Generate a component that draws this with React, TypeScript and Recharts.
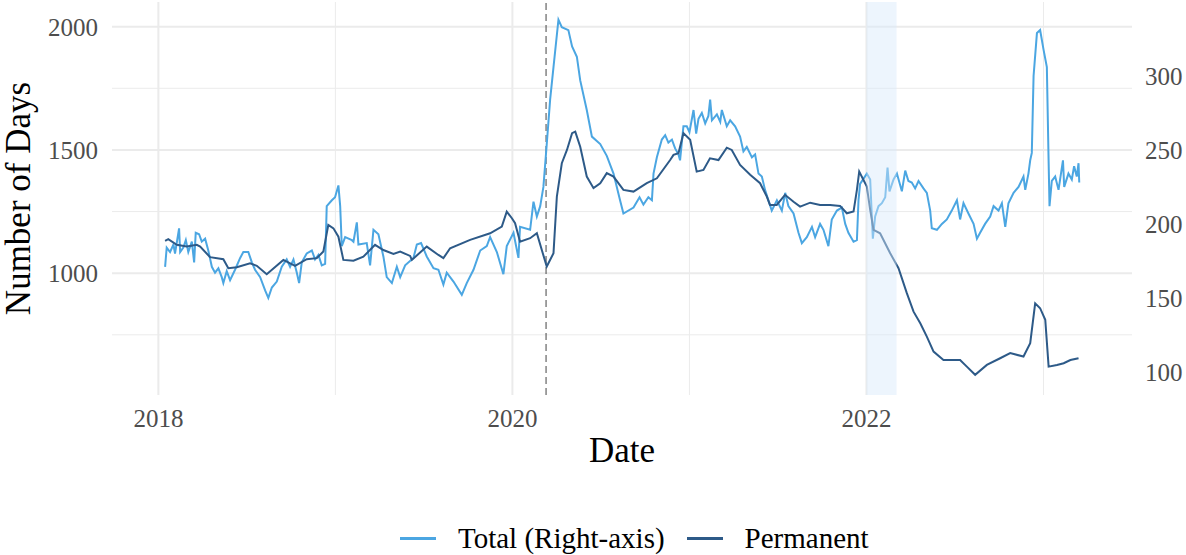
import React from "react";
import {
  LineChart,
  Line,
  XAxis,
  YAxis,
  CartesianGrid,
  ReferenceArea,
  ReferenceLine,
} from "recharts";

// dates are decimal years
const permDates = [
  2018.038, 2018.056, 2018.104, 2018.16, 2018.217, 2018.236, 2018.292, 2018.367, 2018.395, 2018.443,
  2018.518, 2018.556, 2018.612, 2018.706, 2018.772, 2018.838, 2018.895, 2018.932, 2018.96, 2018.989,
  2019.017, 2019.045, 2019.102, 2019.158, 2019.224, 2019.271, 2019.328, 2019.366, 2019.422, 2019.432,
  2019.516, 2019.582, 2019.61, 2019.648, 2019.761, 2019.874, 2019.94, 2019.968, 2019.997, 2020.015,
  2020.043, 2020.1, 2020.138, 2020.166, 2020.194, 2020.232, 2020.251, 2020.279, 2020.308, 2020.337,
  2020.355, 2020.383, 2020.42, 2020.458, 2020.496, 2020.533, 2020.571, 2020.627, 2020.684, 2020.759,
  2020.816, 2020.891, 2020.91, 2020.938, 2020.966, 2021.004, 2021.041, 2021.079, 2021.116, 2021.164,
  2021.211, 2021.239, 2021.286, 2021.343, 2021.399, 2021.437, 2021.455, 2021.493, 2021.54, 2021.588,
  2021.625, 2021.682, 2021.738, 2021.795, 2021.851, 2021.889, 2021.927, 2021.946, 2021.959, 2022.002,
  2022.021, 2022.04, 2022.077, 2022.134, 2022.181, 2022.228, 2022.266, 2022.304, 2022.341, 2022.379,
  2022.435, 2022.529, 2022.567, 2022.614, 2022.68, 2022.755, 2022.812, 2022.887, 2022.925, 2022.953,
  2022.981, 2023.01, 2023.029, 2023.076, 2023.114, 2023.152, 2023.198,
];
const permValues = [
  1131, 1138, 1115, 1108, 1115, 1108, 1065, 1057, 1020, 1024,
  1040, 1030, 996, 1054, 1030, 1057, 1061, 1088, 1196, 1182,
  1148, 1054, 1051, 1067, 1115, 1094, 1078, 1088, 1070, 1054,
  1108, 1074, 1061, 1101, 1135, 1162, 1189, 1250, 1223, 1203,
  1128, 1142, 1162, 1094, 1027, 1081, 1311, 1446, 1500, 1568,
  1574, 1513, 1392, 1345, 1365, 1406, 1392, 1338, 1331, 1365,
  1385, 1459, 1480, 1487, 1568, 1541, 1412, 1419, 1466, 1459,
  1509, 1500, 1439, 1399, 1365, 1311, 1277, 1277, 1318, 1290,
  1270, 1286, 1277, 1277, 1273, 1243, 1250, 1338, 1412, 1351,
  1257, 1176, 1162, 1081, 1020, 919, 844, 797, 743, 682,
  648, 648, 621, 588, 628, 655, 676, 662, 716, 878,
  858, 811, 621, 628, 635, 648, 655,
];

const totalDates = [
  // 2018
  2018.038, 2018.047, 2018.066, 2018.085, 2018.094, 2018.117, 2018.123, 2018.141, 2018.155, 2018.169,
  2018.189, 2018.202, 2018.211, 2018.23, 2018.245, 2018.264, 2018.282, 2018.302, 2018.32, 2018.339,
  2018.358, 2018.367, 2018.386, 2018.405, 2018.433, 2018.462, 2018.48, 2018.508, 2018.528, 2018.546,
  2018.575, 2018.603, 2018.621, 2018.641, 2018.669, 2018.697, 2018.725, 2018.744, 2018.763, 2018.782,
  2018.795, 2018.81, 2018.838, 2018.867, 2018.885, 2018.904, 2018.923, 2018.942, 2018.951, 2018.98,
  2018.998, 2019.017, 2019.027, 2019.036, 2019.055, 2019.093,
  // 2019 - mid 2020
  2019.102, 2019.121, 2019.13, 2019.177, 2019.196, 2019.215, 2019.243, 2019.271, 2019.29, 2019.319,
  2019.347, 2019.366, 2019.394, 2019.441, 2019.46, 2019.484, 2019.516, 2019.554, 2019.582, 2019.61,
  2019.629, 2019.667, 2019.714, 2019.742, 2019.78, 2019.818, 2019.855, 2019.874, 2019.912, 2019.949,
  2019.968, 2020.006, 2020.034, 2020.043, 2020.1, 2020.119, 2020.138, 2020.157, 2020.175, 2020.194,
  2020.213, 2020.232, 2020.26, 2020.279, 2020.316, 2020.337, 2020.364, 2020.383, 2020.42, 2020.449,
  2020.496, 2020.533, 2020.571, 2020.608, 2020.627, 2020.684,
  // late 2020 - 2021
  2020.718, 2020.74, 2020.768, 2020.788, 2020.797, 2020.816, 2020.844, 2020.863, 2020.881, 2020.901,
  2020.919, 2020.938, 2020.947, 2020.966, 2020.985, 2021.0, 2021.023, 2021.038, 2021.051, 2021.07,
  2021.089, 2021.107, 2021.117, 2021.127, 2021.155, 2021.174, 2021.183, 2021.211, 2021.23, 2021.258,
  2021.286, 2021.305, 2021.324, 2021.353, 2021.371, 2021.39, 2021.409, 2021.427, 2021.446, 2021.465,
  2021.494, 2021.522, 2021.541, 2021.559, 2021.588, 2021.616, 2021.635, 2021.663, 2021.692, 2021.71,
  2021.738, 2021.757, 2021.785, 2021.804, 2021.833, 2021.861, 2021.88, 2021.898, 2021.927, 2021.946,
  2021.955,
  // 2022 - 2023
  2021.964, 2022.002, 2022.021, 2022.036, 2022.049, 2022.068, 2022.087, 2022.106, 2022.119, 2022.13,
  2022.153, 2022.172, 2022.2, 2022.219, 2022.237, 2022.256, 2022.275, 2022.294, 2022.322, 2022.341,
  2022.36, 2022.369, 2022.398, 2022.426, 2022.454, 2022.482, 2022.511, 2022.529, 2022.548, 2022.576,
  2022.605, 2022.624, 2022.642, 2022.67, 2022.699, 2022.718, 2022.746, 2022.765, 2022.784, 2022.802,
  2022.831, 2022.859, 2022.887, 2022.897, 2022.915, 2022.925, 2022.934, 2022.944, 2022.963, 2022.981,
  2023.0, 2023.019, 2023.028, 2023.034, 2023.047, 2023.066, 2023.085, 2023.11, 2023.117, 2023.141,
  2023.16, 2023.173, 2023.188, 2023.198, 2023.202,
];
const totalValues = [
  // 2018
  171, 184, 181, 186, 180, 197, 181, 184, 189, 181,
  188, 174, 194, 193, 188, 190, 182, 171, 167, 170,
  164, 160, 168, 162, 169, 177, 181, 181, 174, 169,
  164, 155, 150, 157, 161, 171, 176, 171, 176, 167,
  160, 174, 180, 182, 176, 179, 172, 173, 212, 216,
  218, 226, 212, 185, 191, 189,
  // 2019 - mid 2020
  188, 201, 186, 187, 172, 196, 193, 178, 164, 160,
  171, 164, 172, 177, 186, 187, 178, 170, 169, 159,
  167, 161, 152, 160, 169, 182, 185, 191, 181, 166,
  185, 194, 177, 198, 196, 215, 205, 212, 225, 254,
  284, 306, 338, 333, 331, 320, 313, 297, 277, 259,
  254, 246, 234, 216, 207, 211,
  // late 2020 - 2021
  218, 213, 218, 216, 234, 245, 257, 260, 255, 257,
  251, 247, 243, 266, 266, 262, 277, 261, 271, 275,
  268, 273, 284, 270, 274, 269, 277, 266, 270, 266,
  259, 249, 252, 245, 247, 234, 232, 223, 216, 209,
  216, 209, 221, 212, 207, 194, 187, 191, 198, 191,
  200, 196, 185, 203, 209, 211, 200, 194, 188, 189,
  216,
  // 2022 - 2023
  227, 234, 230, 190, 205, 212, 214, 218, 238, 222,
  230, 234, 222, 236, 229, 228, 224, 229, 224, 221,
  209, 197, 196, 200, 203, 209, 216, 203, 214, 207,
  200, 190, 194, 200, 205, 212, 209, 214, 198, 214,
  221, 225, 232, 223, 234, 243, 248, 300, 329, 331,
  318, 306, 248, 212, 229, 232, 223, 243, 225, 234,
  230, 239, 232, 241, 228,
];

const yearTicks = [2018, 2020, 2022];
const minorYears = [2019, 2021, 2023];
const leftTicks = [1000, 1500, 2000];
const leftMinor = [750, 1250, 1750];
const rightTicks = [100, 150, 200, 250, 300];

const covidStart = 2020.19;
const shadeFrom = 2022.0;
const shadeTo = 2022.17;

// right axis is the left axis divided by 6
const RATIO = 6;
const LEFT_DOMAIN: [number, number] = [506, 2100];
const RIGHT_DOMAIN: [number, number] = [LEFT_DOMAIN[0] / RATIO, LEFT_DOMAIN[1] / RATIO];
const X_DOMAIN: [number, number] = [2017.738, 2023.5];

const LIGHT = "#4ba6e2";
const DARK = "#2d5a88";
const FONT = "'Liberation Serif', 'Times New Roman', serif";

const permData = permDates.map((t, i) => ({ t, value: permValues[i] }));
const totalData = totalDates.map((t, i) => ({ t, value: totalValues[i] }));

const tickStyle = { fill: "#4d4d4d", fontSize: 25, fontFamily: FONT };

const LegendItem = ({ color, label }: { color: string; label: string }) => (
  <div style={{ display: "flex", alignItems: "center", marginRight: 22 }}>
    <div style={{ width: 36, height: 3, background: color, marginRight: 22 }} />
    <span style={{ fontSize: 29, color: "#000" }}>{label}</span>
  </div>
);

const App = () => {
  return (
    <div
      style={{
        position: "absolute",
        left: 0,
        top: 0,
        width: 1186,
        height: 555,
        background: "#fff",
        fontFamily: FONT,
      }}
    >
      <LineChart width={1186} height={555} margin={{ top: 2, right: 0, bottom: 90, left: 0 }}>
        <CartesianGrid
          xAxisId="x"
          yAxisId="left"
          stroke="#ebebeb"
          strokeWidth={1}
          horizontalValues={leftMinor}
          verticalValues={minorYears}
        />
        <CartesianGrid
          xAxisId="x"
          yAxisId="left"
          stroke="#ebebeb"
          strokeWidth={2}
          horizontalValues={leftTicks}
          verticalValues={yearTicks}
        />
        <XAxis
          xAxisId="x"
          dataKey="t"
          type="number"
          domain={X_DOMAIN}
          ticks={yearTicks}
          allowDataOverflow
          axisLine={false}
          tickLine={false}
          tickSize={0}
          tickMargin={14}
          height={70}
          tick={tickStyle}
          tickFormatter={(v: number) => String(v)}
          label={{
            value: "Date",
            position: "insideBottom",
            offset: 3,
            style: { fill: "#000", fontSize: 35, fontFamily: FONT },
          }}
        />
        <YAxis
          yAxisId="left"
          domain={LEFT_DOMAIN}
          ticks={leftTicks}
          allowDataOverflow
          axisLine={false}
          tickLine={false}
          tickSize={0}
          tickMargin={14}
          width={112}
          tick={tickStyle}
          label={{
            value: "Number of Days",
            angle: -90,
            position: "insideLeft",
            offset: 18,
            style: { fill: "#000", fontSize: 35, fontFamily: FONT, textAnchor: "middle" },
          }}
        />
        <YAxis
          yAxisId="right"
          orientation="right"
          domain={RIGHT_DOMAIN}
          ticks={rightTicks}
          allowDataOverflow
          axisLine={false}
          tickLine={false}
          tickSize={0}
          tickMargin={13}
          width={54}
          tick={tickStyle}
        />
        <ReferenceLine
          xAxisId="x"
          yAxisId="left"
          x={covidStart}
          stroke="#444"
          strokeWidth={1}
          strokeDasharray="7 4"
        />
        <Line
          xAxisId="x"
          yAxisId="right"
          data={totalData}
          dataKey="value"
          type="linear"
          stroke={LIGHT}
          strokeWidth={2}
          dot={false}
          isAnimationActive={false}
          name="Total (Right-axis)"
        />
        <Line
          xAxisId="x"
          yAxisId="left"
          data={permData}
          dataKey="value"
          type="linear"
          stroke={DARK}
          strokeWidth={2}
          dot={false}
          isAnimationActive={false}
          name="Permanent"
        />
        {/* shaded window sits above the lines */}
        <ReferenceArea
          xAxisId="x"
          yAxisId="left"
          x1={shadeFrom}
          x2={shadeTo}
          fill="#d6e8fb"
          fillOpacity={0.45}
          stroke="none"
          zIndex={1000}
        />
      </LineChart>
      <div style={{ position: "absolute", left: 400, top: 522, display: "flex", alignItems: "center" }}>
        <LegendItem color={LIGHT} label="Total (Right-axis)" />
        <LegendItem color={DARK} label="Permanent" />
      </div>
    </div>
  );
};

export default App;
